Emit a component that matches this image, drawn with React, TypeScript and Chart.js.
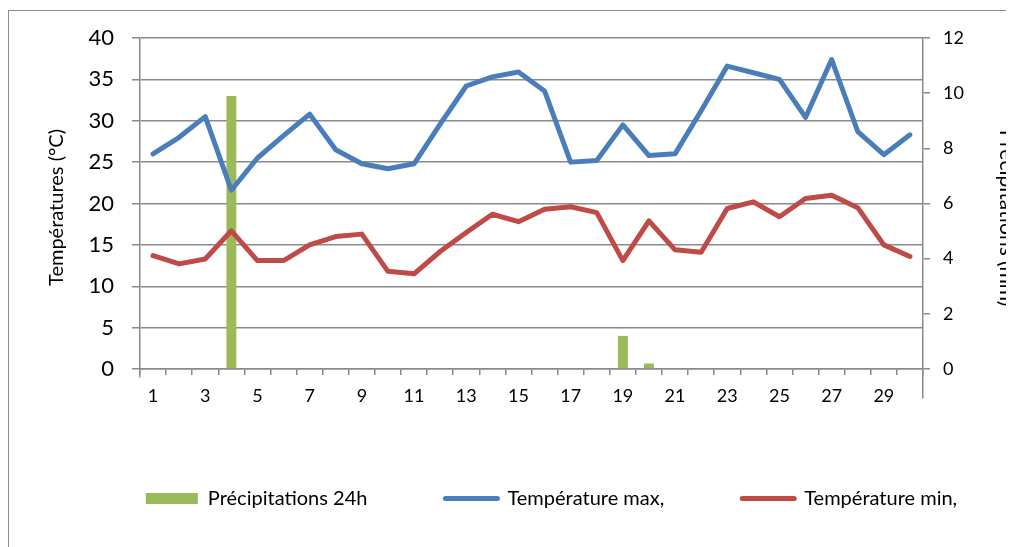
import React, { useEffect, useRef } from 'react';
import { Chart, registerables } from 'chart.js';

Chart.register(...registerables);

const days = ['1','2','3','4','5','6','7','8','9','10','11','12','13','14','15','16','17','18','19','20','21','22','23','24','25','26','27','28','29','30'];
const precipitations = [0,0,0,9.9,0,0,0,0,0,0,0,0,0,0,0,0,0,0,1.2,0.2,0,0,0,0,0,0,0,0,0,0];
const tempMax = [26.0,28.0,30.5,21.6,25.5,28.2,30.8,26.5,24.8,24.2,24.8,29.6,34.2,35.3,35.9,33.6,25.0,25.2,29.5,25.8,26.0,31.2,36.6,35.8,35.0,30.4,37.4,28.7,25.9,28.3];
const tempMin = [13.7,12.7,13.3,16.7,13.1,13.1,15.0,16.0,16.3,11.8,11.5,14.2,16.5,18.7,17.8,19.3,19.6,18.9,13.1,17.9,14.4,14.1,19.4,20.2,18.4,20.6,21.0,19.5,15.0,13.6];
const leftTicks = { min: 0, max: 40, step: 5 };
const rightTicks = { min: 0, max: 12, step: 2 };

const GREEN = '#9BBB59';
const BLUE = '#4A7EBB';
const RED = '#BE4B48';
const GRID = '#8a8a8a';
const FONT = 'Lato';

const W = 1085;
const H = 540;
const PLOT_RIGHT = 914;
const RIGHT_TITLE_SIZE = 21;

// Shifts the axis-title centring boxes (titles only; pixel mapping is already configured)
const titleShift = {
  id: 'titleShift',
  afterLayout(chart: any) {
    const y = chart.scales.y;
    const y1 = chart.scales.y1;
    if (y) y.bottom = y.bottom + 8;
    if (y1) y1.bottom = y1.bottom + 29;
  },
};

export default function App() {
  const ref = useRef<HTMLCanvasElement | null>(null);

  useEffect(() => {
    if (!ref.current) return;
    const chart = new Chart(ref.current, {
      type: 'bar',
      plugins: [titleShift],
      data: {
        labels: days,
        datasets: [
          {
            type: 'bar',
            label: 'Précipitations 24h',
            data: precipitations,
            backgroundColor: GREEN,
            borderWidth: 0,
            yAxisID: 'y1',
            barPercentage: 0.38,
            categoryPercentage: 1,
            order: 2,
          },
          {
            type: 'line',
            label: 'Température max,',
            data: tempMax,
            borderColor: BLUE,
            backgroundColor: BLUE,
            borderWidth: 5,
            pointRadius: 0,
            pointHoverRadius: 0,
            tension: 0,
            borderJoinStyle: 'round',
            borderCapStyle: 'round',
            yAxisID: 'y',
            order: 1,
          },
          {
            type: 'line',
            label: 'Température min,',
            data: tempMin,
            borderColor: RED,
            backgroundColor: RED,
            borderWidth: 5,
            pointRadius: 0,
            pointHoverRadius: 0,
            tension: 0,
            borderJoinStyle: 'round',
            borderCapStyle: 'round',
            yAxisID: 'y',
            order: 0,
          },
        ],
      } as any,
      options: {
        responsive: false,
        animation: false,
        devicePixelRatio: 1,
        layout: { padding: { left: 0, right: 0, top: 27, bottom: 32.5 } },
        plugins: {
          tooltip: { enabled: false },
          legend: {
            position: 'bottom',
            labels: {
              font: { family: FONT, size: 20 },
              color: '#000',
              usePointStyle: true,
              pointStyleWidth: 52,
              boxWidth: 52,
              boxHeight: 11,
              padding: 78,
              generateLabels: (c: any) =>
                c.data.datasets.map((ds: any, i: number) => {
                  const isBar = ds.type === 'bar';
                  return {
                    text: ds.label,
                    fillStyle: isBar ? GREEN : ds.borderColor,
                    strokeStyle: isBar ? GREEN : ds.borderColor,
                    lineWidth: isBar ? 0 : 5,
                    lineCap: 'round',
                    pointStyle: isBar ? 'rect' : 'line',
                    fontColor: '#000',
                    hidden: false,
                    datasetIndex: i,
                  };
                }),
            },
          },
        },
        scales: {
          x: {
            offset: true,
            grid: {
              offset: true,
              drawOnChartArea: false,
              drawTicks: true,
              tickLength: 6,
              color: GRID,
              lineWidth: 1.5,
            },
            border: { display: true, color: GRID, width: 1.5 },
            ticks: {
              autoSkip: false,
              maxRotation: 0,
              padding: 10,
              color: '#000',
              font: { family: FONT, size: 18 },
              callback: (_v: any, i: number) => (i % 2 === 0 ? days[i] : ''),
            },
            afterFit: (s: any) => { s.height = 41.5; },
          },
          y: {
            position: 'left',
            min: leftTicks.min,
            max: leftTicks.max,
            ticks: {
              stepSize: leftTicks.step,
              padding: 18,
              color: '#000',
              font: { family: FONT, size: 22 },
            },
            grid: { color: GRID, lineWidth: 1.5, tickLength: 8, drawTicks: true },
            border: { display: true, color: GRID, width: 1.5 },
            title: {
              display: true,
              text: 'Températures (°C)',
              color: '#000',
              font: { family: FONT, size: 20 },
              padding: { top: 36, bottom: 0 },
            },
            afterFit: (s: any) => { s.width = 131; s.paddingTop = 0; s.paddingBottom = 0; },
          },
          y1: {
            position: 'right',
            min: rightTicks.min,
            max: rightTicks.max,
            ticks: {
              stepSize: rightTicks.step,
              padding: 13,
              color: '#000',
              font: { family: FONT, size: 18 },
            },
            grid: { drawOnChartArea: false, color: GRID, lineWidth: 1.5, tickLength: 7, drawTicks: true },
            border: { display: true, color: GRID, width: 1.5 },
            title: {
              display: true,
              text: 'Précipitations (mm)',
              color: '#000',
              font: { family: FONT, size: RIGHT_TITLE_SIZE },
              padding: { top: W - (RIGHT_TITLE_SIZE * 1.2) / 2 - 998, bottom: 0 },
            },
            afterFit: (s: any) => { s.width = W - PLOT_RIGHT; s.paddingTop = 0; s.paddingBottom = 0; },
          },
        },
      } as any,
    });
    return () => chart.destroy();
  }, []);

  return (
    <div style={{ width: 1006, height: 539, overflow: 'hidden', position: 'relative' }}>
      <div
        style={{
          position: 'absolute',
          left: 0,
          top: 2,
          width: W,
          height: H,
          border: '1px solid #8c8c8c',
          background: '#fff',
        }}
      >
        <canvas ref={ref} width={W} height={H} style={{ display: 'block', width: W, height: H }} />
      </div>
    </div>
  );
}
